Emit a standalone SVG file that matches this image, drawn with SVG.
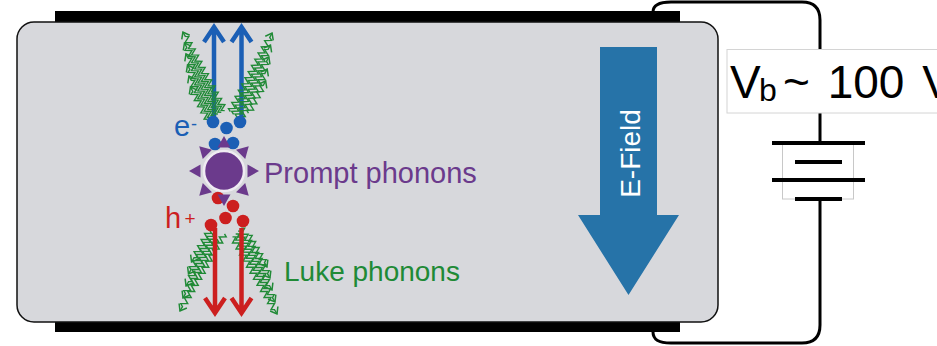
<svg xmlns="http://www.w3.org/2000/svg" width="937" height="346" viewBox="0 0 937 346">
  <style>
    .txt { font-family: "Liberation Sans", Arial, Helvetica, sans-serif; }
    .wire { fill: none; stroke: #000; stroke-width: 3; }
    .plate { stroke: #000; stroke-width: 4; }
    .blue { fill: #1b5fb5; }
    .red { fill: #cc1f1f; }
    .drift { fill: none; stroke-width: 4.5; stroke-linejoin: miter; stroke-miterlimit: 10; }
  </style>
  <defs>
    <!-- open chevron used at the end of each phonon squiggle -->
    <marker id="zz-head" markerUnits="userSpaceOnUse" markerWidth="14" markerHeight="14" refX="9" refY="6" orient="auto" overflow="visible">
      <path d="M3 1.5L9 6L3 10.5" fill="none" stroke="#208a36" stroke-width="1.5"/>
    </marker>
    <!-- zig-zag phonon arrows of several lengths, drawn along +x -->
    <path id="a89" marker-end="url(#zz-head)" d="M0 0l1.75-3 3.5 6 3.5-6 3.5 6 3.5-6 3.5 6 3.5-6 3.5 6 3.5-6 3.5 6 3.5-6 3.5 6 3.5-6 3.5 6 3.5-6 3.5 6 3.5-6 3.5 6 3.5-6 3.5 6 3.5-6 3.5 6 3.5-6 3.5 6 1.75-3 5 0"/>
    <path id="a78" marker-end="url(#zz-head)" d="M0 0l1.75-3 3.5 6 3.5-6 3.5 6 3.5-6 3.5 6 3.5-6 3.5 6 3.5-6 3.5 6 3.5-6 3.5 6 3.5-6 3.5 6 3.5-6 3.5 6 3.5-6 3.5 6 3.5-6 3.5 6 3.5-6 1.75 3 5 0"/>
    <path id="a68" marker-end="url(#zz-head)" d="M0 0l1.75-3 3.5 6 3.5-6 3.5 6 3.5-6 3.5 6 3.5-6 3.5 6 3.5-6 3.5 6 3.5-6 3.5 6 3.5-6 3.5 6 3.5-6 3.5 6 3.5-6 3.5 6 1.75-3 5 0"/>
    <path id="a57" marker-end="url(#zz-head)" d="M0 0l1.75-3 3.5 6 3.5-6 3.5 6 3.5-6 3.5 6 3.5-6 3.5 6 3.5-6 3.5 6 3.5-6 3.5 6 3.5-6 3.5 6 3.5-6 1.75 3 5 0"/>
    <path id="a47" marker-end="url(#zz-head)" d="M0 0l1.75-3 3.5 6 3.5-6 3.5 6 3.5-6 3.5 6 3.5-6 3.5 6 3.5-6 3.5 6 3.5-6 3.5 6 1.75-3 5 0"/>
    <path id="a36" marker-end="url(#zz-head)" d="M0 0l1.75-3 3.5 6 3.5-6 3.5 6 3.5-6 3.5 6 3.5-6 3.5 6 3.5-6 1.75 3 5 0"/>
    <!-- one spike of the prompt-phonon burst -->
    <polygon id="ray" points="0,-35 6.5,-23.5 -6.5,-23.5"/>
  </defs>

  <rect width="937" height="346" fill="#fff"/>

  <!-- bias circuit wiring -->
  <g id="connectors">
    <path class="wire" d="M653 12C653 5 659 2 671 2H802C814 2 820 8 820 20V143"/>
    <path class="wire" d="M820 199V325C820 337 814 343 802 343H671C659 343 653 340 653 332"/>
  </g>

  <!-- electrodes and crystal -->
  <g id="electrodes">
    <rect x="55" y="11" width="625" height="11" fill="#000"/>
    <rect x="55" y="322" width="625" height="10" fill="#000"/>
  </g>
  <g id="crystal">
    <rect x="17" y="22" width="701" height="300" rx="17" fill="#d7d8dc" stroke="#111" stroke-width="1.5"/>
  </g>

  <!-- field direction arrow -->
  <g id="e-field">
    <path d="M600 47H657V215H679L628.5 295L578 215H600Z" fill="#2673a8"/>
    <text class="txt" transform="translate(640 153.5) rotate(-90)" text-anchor="middle" font-size="28" fill="#fff">E-Field</text>
  </g>

  <!-- electrons drifting up -->
  <g id="electron-drift" class="drift" stroke="#1b5fb5">
    <path d="M214 118V30M204 42L214 27L224 42"/>
    <path d="M241.5 118V30M231.5 42L241.5 27L251.5 42"/>
  </g>

  <!-- Luke phonons emitted along the electron paths -->
  <g id="luke-top" fill="none" stroke="#208a36" stroke-width="1.4">
    <use href="#a89" transform="translate(224.7 110.6) rotate(-118)"/>
    <use href="#a78" transform="translate(221.3 112.3) rotate(-118)"/>
    <use href="#a68" transform="translate(217.9 114) rotate(-118)"/>
    <use href="#a57" transform="translate(214.5 115.8) rotate(-118)"/>
    <use href="#a47" transform="translate(211 117.5) rotate(-118)"/>
    <use href="#a36" transform="translate(207.6 119.2) rotate(-118)"/>
    <use href="#a89" transform="translate(230.3 111.6) rotate(-62)"/>
    <use href="#a78" transform="translate(233.6 114.3) rotate(-62)"/>
    <use href="#a68" transform="translate(236.9 117) rotate(-62)"/>
    <use href="#a57" transform="translate(240.2 119.8) rotate(-62)"/>
    <use href="#a36" transform="translate(248.5 113.2) rotate(-62)"/>
  </g>

  <!-- electrons -->
  <g id="electrons">
    <circle class="blue" cx="213" cy="122" r="6.3"/>
    <circle class="blue" cx="226.5" cy="128" r="6.3"/>
    <circle class="blue" cx="240" cy="122" r="6.3"/>
    <circle class="blue" cx="215" cy="144" r="6.3"/>
    <circle class="blue" cx="233" cy="143" r="6.3"/>
    <text class="txt" x="174" y="135.5" font-size="29" fill="#1b5fb5">e</text>
    <text class="txt" x="191" y="130" font-size="18" fill="#1b5fb5">-</text>
  </g>

  <!-- Luke phonons along the hole paths -->
  <g id="luke-bottom" fill="none" stroke="#208a36" stroke-width="1.4">
    <use href="#a89" transform="translate(224.5 233.9) rotate(120)"/>
    <use href="#a68" transform="translate(217 239.1) rotate(120)"/>
    <use href="#a57" transform="translate(214.8 236.2) rotate(120)"/>
    <use href="#a47" transform="translate(212 233.3) rotate(120)"/>
    <use href="#a36" transform="translate(209.8 230.4) rotate(120)"/>
    <use href="#a89" transform="translate(232.5 236.9) rotate(60)"/>
    <use href="#a78" transform="translate(235.7 234) rotate(60)"/>
    <use href="#a68" transform="translate(238 231.1) rotate(60)"/>
    <use href="#a57" transform="translate(241.2 228.2) rotate(60)"/>
    <use href="#a36" transform="translate(248.7 235.4) rotate(60)"/>
  </g>

  <!-- holes drifting down -->
  <g id="hole-drift" class="drift" stroke="#cc1f1f">
    <path d="M215 228V310M205 298L215 313L225 298"/>
    <path d="M241.5 228V310M231.5 298L241.5 313L251.5 298"/>
  </g>

  <!-- holes -->
  <g id="holes">
    <circle class="red" cx="218" cy="198" r="6.3"/>
    <circle class="red" cx="233" cy="206" r="6.3"/>
    <circle class="red" cx="211" cy="225" r="6.3"/>
    <circle class="red" cx="225.5" cy="218" r="6.3"/>
    <circle class="red" cx="243" cy="221" r="6.3"/>
    <text class="txt" x="165" y="228" font-size="29" fill="#cc1f1f">h</text>
    <text class="txt" x="184.5" y="224.5" font-size="19" fill="#cc1f1f">+</text>
  </g>

  <!-- prompt phonon burst at the interaction site -->
  <g id="prompt-burst" transform="translate(224 171)" fill="#6b3a8c">
    <use href="#ray"/>
    <use href="#ray" transform="rotate(45)"/>
    <use href="#ray" transform="rotate(90)"/>
    <use href="#ray" transform="rotate(135)"/>
    <use href="#ray" transform="rotate(180)"/>
    <use href="#ray" transform="rotate(225)"/>
    <use href="#ray" transform="rotate(270)"/>
    <use href="#ray" transform="rotate(315)"/>
    <circle r="20" stroke="#efebf2" stroke-width="2.5"/>
  </g>

  <g id="prompt-label">
    <text class="txt" x="264" y="183" font-size="29" fill="#6b3a8c">Prompt phonons</text>
  </g>
  <g id="luke-label">
    <text class="txt" x="284" y="281" font-size="28" fill="#208a36">Luke phonons</text>
  </g>

  <!-- bias supply -->
  <g id="battery">
    <rect x="782.5" y="143" width="71" height="56" fill="none" stroke="#c8c8c8" stroke-width="1"/>
    <path class="plate" d="M772 143H865M795 162H842M772 180H865M795 199H842"/>
  </g>
  <g id="bias-label">
    <rect x="727" y="49.5" width="215" height="63.5" fill="#fff" stroke="#d4d4d4" stroke-width="1"/>
    <text class="txt" x="730" y="98" font-size="46" fill="#000">V<tspan x="759" font-size="32" dy="2.5">b</tspan><tspan x="783" dy="-2.5" word-spacing="5">~ 100 V</tspan></text>
  </g>
</svg>
